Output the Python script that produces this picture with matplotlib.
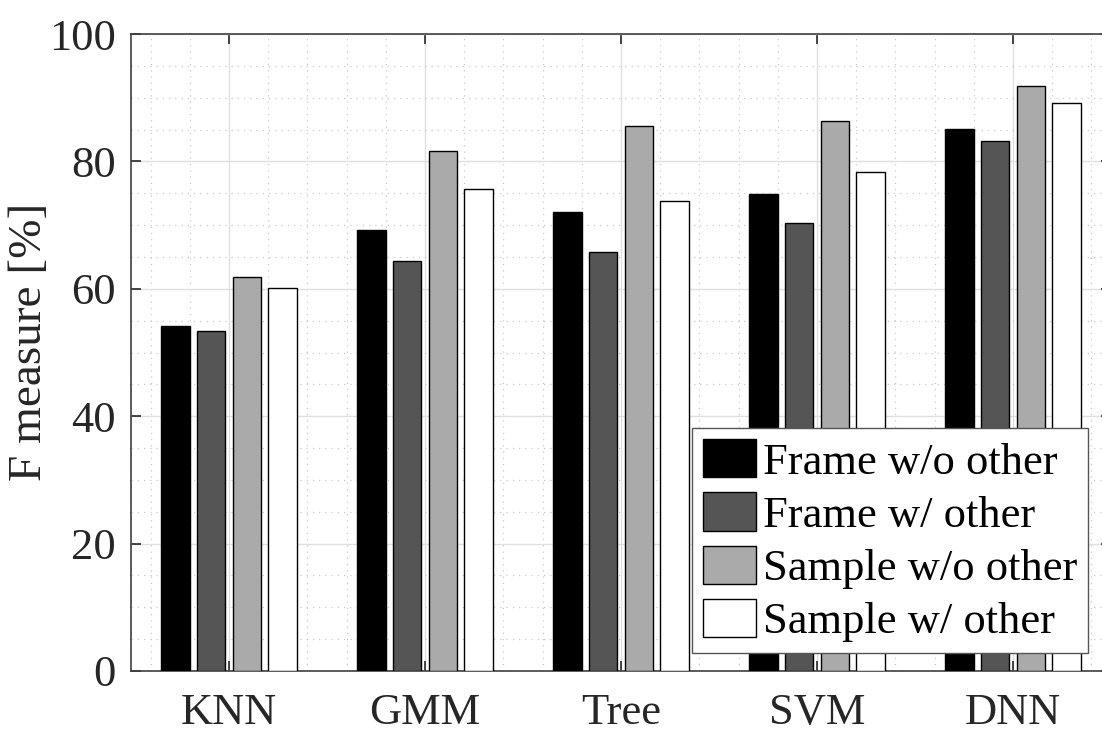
import matplotlib.pyplot as plt
import numpy as np
from matplotlib.ticker import MultipleLocator

plt.rcParams['font.family'] = ['Liberation Serif', 'DejaVu Serif']

# data
methods = ['KNN', 'GMM', 'Tree', 'SVM', 'DNN']
series = ['Frame w/o other', 'Frame w/ other', 'Sample w/o other', 'Sample w/ other']
frame_wo = [54.2, 69.2, 72.1, 74.9, 85.1]
frame_w = [53.4, 64.3, 65.7, 70.3, 83.2]
sample_wo = [61.9, 81.6, 85.6, 86.4, 91.8]
sample_w = [60.1, 75.7, 73.8, 78.3, 89.2]
colours = ['#000000', '#555555', '#aaaaaa', '#ffffff']

W, H = 1102, 734
fig = plt.figure(figsize=(W / 100, H / 100), dpi=100)
ax = fig.add_axes([131 / W, 1 - 671 / H, (1111 - 131) / W, (671 - 34) / H])

x = np.arange(1, len(methods) + 1)
step = 0.727 / 4
bw = step * 0.8
allvals = [frame_wo, frame_w, sample_wo, sample_w]
for i, vals in enumerate(allvals):
    off = (i - 1.5) * step
    ax.bar(x + off, vals, bw, color=colours[i], edgecolor='black',
           linewidth=1.0, label=series[i], zorder=3)

ax.set_xlim(0.5, 5.5)
ax.set_ylim(0, 100)
ax.set_xticks(x)
ax.set_xticklabels(methods)
ax.set_yticks(np.arange(0, 101, 20))
ax.xaxis.set_minor_locator(MultipleLocator(0.2))
ax.yaxis.set_minor_locator(MultipleLocator(5))

ax.grid(True, which='major', color='#e0e0e0', linewidth=1.0, zorder=0)
ax.grid(True, which='minor', color='#c8c8c8', linestyle=(0, (1, 4)),
        linewidth=0.9, zorder=0)
ax.set_axisbelow(True)

ax.tick_params(which='major', direction='in', length=7, width=1.2,
               top=True, right=True, labelsize=32, colors='#262626')
ax.tick_params(axis='x', which='major', pad=16)
ax.tick_params(axis='y', which='major', pad=11)
ax.tick_params(which='minor', length=0)
for s in ax.spines.values():
    s.set_color('#404040')
    s.set_linewidth(1.2)

fig.text(30 / W, 1 - 342 / H, 'F measure [%]', rotation=90, ha='center',
         va='center', fontsize=34, color='#262626')

leg = ax.legend(loc='upper right', bbox_to_anchor=(1088 / W, 1 - 428 / H),
                bbox_transform=fig.transFigure, fontsize=32, frameon=True,
                fancybox=False, edgecolor='#555555', framealpha=1,
                handlelength=1.18, handleheight=0.95, handletextpad=0.15,
                labelspacing=0.22, borderpad=0.25, borderaxespad=0)
leg.get_frame().set_linewidth(1.0)

fig.savefig('out.png', dpi=100)
